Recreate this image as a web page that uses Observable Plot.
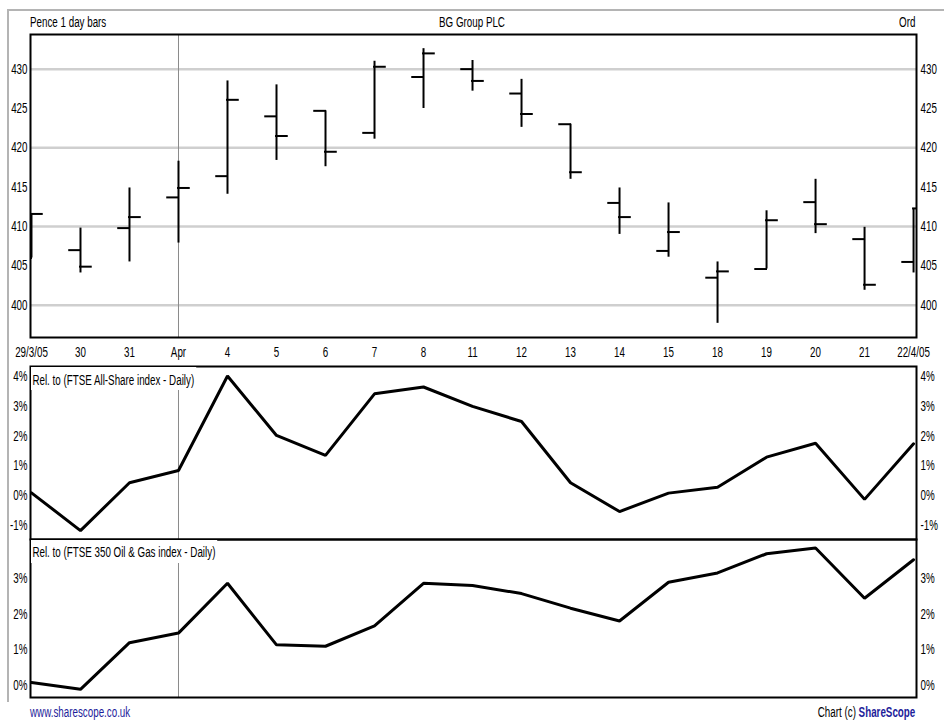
<!DOCTYPE html>
<html><head><meta charset="utf-8">
<script src="https://cdn.jsdelivr.net/npm/d3@7"></script>
<script src="https://cdn.jsdelivr.net/npm/@observablehq/plot@0.6"></script>
<style>
body{margin:0;background:#fff;}
#wrap{position:relative;width:944px;height:726px;overflow:hidden;font-family:"Liberation Sans",Arial,sans-serif;font-size:14px;color:#000;}
.t{position:absolute;white-space:nowrap;line-height:15px;z-index:5;}
.l{transform:scaleX(0.7);transform-origin:left center;}
.r{transform:scaleX(0.7);transform-origin:right center;}
.c{transform:scaleX(0.7);transform-origin:center center;}
#outer{position:absolute;left:7px;top:9px;width:940px;height:693px;border-top:2px solid #b4b4b4;border-left:2px solid #b4b4b4;box-sizing:border-box;}
</style></head><body><div id="wrap">
<div id="outer"></div>
<div class="t l" style="left:30px;top:15px;">Pence 1 day bars</div>
<div class="t c" style="left:0;width:944px;text-align:center;top:15px;">BG Group PLC</div>
<div class="t r" style="right:29px;top:15px;">Ord</div>
<div class="t l" style="left:31px;top:367px;background:#fff;padding:6px 3px 2px 2px;">Rel. to (FTSE All-Share index - Daily)</div>
<div class="t l" style="left:31px;top:540px;background:#fff;padding:5px 3px 3px 2px;">Rel. to (FTSE 350 Oil &amp; Gas index - Daily)</div>
<div class="t l" style="left:30px;top:705px;color:#1d1d9a;">www.sharescope.co.uk</div>
<div class="t r" style="right:29px;top:705px;">Chart (c) <b style="color:#1d1d9a;">ShareScope</b></div>
</div>
<script>
const dates = ["29/3/05","30","31","Apr","4","5","6","7","8","11","12","13","14","15","18","19","20","21","22/4/05"];
const opens  = [406.0, 407.0, 409.8, 413.7, 416.4, 424.0, 424.7, 421.9, 429.0, 430.0, 426.9, 423.0, 413.0, 406.9, 403.5, 404.6, 413.1, 408.4, 405.5];
const highs  = [411.6, 409.8, 414.9, 418.3, 428.5, 428.0, 424.7, 431.0, 432.6, 431.1, 428.7, 423.0, 414.9, 413.0, 405.5, 412.0, 416.0, 409.9, 412.3];
const lows   = [406.0, 404.1, 405.5, 407.9, 414.1, 418.4, 417.6, 421.1, 425.0, 427.2, 422.6, 416.0, 409.0, 406.1, 397.7, 404.6, 409.1, 401.9, 404.1];
const closes = [411.6, 404.9, 411.2, 414.9, 426.1, 421.5, 419.5, 430.3, 432.0, 428.5, 424.3, 416.9, 411.2, 409.3, 404.3, 410.8, 410.3, 402.6, 412.3];
const relAllShare = [0.09, -1.18, 0.43, 0.84, 4.02, 2.02, 1.35, 3.42, 3.65, 3.0, 2.49, 0.43, -0.54, 0.08, 0.28, 1.29, 1.76, -0.13, 1.74];
const relOilGas   = [0.08, -0.11, 1.20, 1.47, 2.87, 1.14, 1.10, 1.67, 2.87, 2.81, 2.58, 2.17, 1.81, 2.90, 3.16, 3.70, 3.86, 2.45, 3.53];
const priceTicks = [400, 405, 410, 415, 420, 425, 430];
const priceGrid = [400, 410, 420, 430];
const allTicks = [-1, 0, 1, 2, 3, 4];
const oilTicks = [0, 1, 2, 3];
const monthStarts = [3];

const ohlc = dates.map((d, i) => ({i, d, open: opens[i], high: highs[i], low: lows[i], close: closes[i]}));
const wrap = document.getElementById("wrap");
const FONT = '"Liberation Sans", Arial, sans-serif';
const SQ = 0.7;
const xDomain = [-0.02, 18.06];
const TW = 0.24;

function st(top) {
  return {background: "transparent", overflow: "visible", position: "absolute", left: "0px", top: top + "px", fontFamily: FONT, fontSize: "14px", color: "#000"};
}
function squeeze(svg) {
  svg.querySelectorAll("text").forEach(t => {
    const L = t.getComputedTextLength();
    if (L > 0) {
      t.setAttribute("textLength", (L * SQ).toFixed(2));
      t.setAttribute("lengthAdjust", "spacingAndGlyphs");
    }
  });
}

const main = Plot.plot({
  width: 944, height: 336,
  marginTop: 4, marginBottom: 29, marginLeft: 30, marginRight: 28,
  style: st(30),
  x: {domain: xDomain, axis: null},
  y: {domain: [395.9, 434.4], axis: null},
  marks: [
    Plot.ruleY(priceGrid, {stroke: "#cfcfcf", strokeWidth: 2.5}),
    Plot.ruleX(monthStarts, {stroke: "#8a8a8a", strokeWidth: 1}),
    Plot.ruleX(ohlc, {x: "i", y1: "low", y2: "high", stroke: "#000", strokeWidth: 2, clip: true}),
    Plot.ruleY(ohlc, {y: "open", x1: d => d.i - TW, x2: d => d.i + 0.02, stroke: "#000", strokeWidth: 2, clip: true}),
    Plot.ruleY(ohlc, {y: "close", x1: d => d.i - 0.02, x2: d => d.i + TW, stroke: "#000", strokeWidth: 2, clip: true}),
    Plot.frame({stroke: "#000", strokeWidth: 2}),
    Plot.axisY(priceTicks, {anchor: "left", tickSize: 0, tickPadding: 3, label: null}),
    Plot.axisY(priceTicks, {anchor: "right", tickSize: 0, tickPadding: 4, label: null}),
    Plot.axisX(d3.range(dates.length), {anchor: "bottom", tickSize: 0, tickPadding: 10, tickFormat: i => dates[i], label: null})
  ]
});
wrap.appendChild(main);
squeeze(main);

function relPanel(values, domain, ticks, top, height) {
  const data = values.map((v, i) => ({i, v}));
  return Plot.plot({
    width: 944, height,
    marginTop: 0, marginBottom: 0, marginLeft: 30, marginRight: 28,
    style: st(top),
    x: {domain: xDomain, axis: null},
    y: {domain, axis: null},
    marks: [
      Plot.ruleX(monthStarts, {stroke: "#8a8a8a", strokeWidth: 1}),
      Plot.line(data, {x: "i", y: "v", stroke: "#000", strokeWidth: 3, strokeLinejoin: "miter", clip: true}),
      Plot.frame({stroke: "#000", strokeWidth: 2}),
      Plot.axisY(ticks, {anchor: "left", tickSize: 0, tickPadding: 3, tickFormat: d => d + "%", label: null}),
      Plot.axisY(ticks, {anchor: "right", tickSize: 0, tickPadding: 4, tickFormat: d => d + "%", label: null})
    ]
  });
}
const p2 = relPanel(relAllShare, [-1.48, 4.34], allTicks, 366, 173);
wrap.appendChild(p2); squeeze(p2);
const p3 = relPanel(relOilGas, [-0.34, 4.10], oilTicks, 539, 158);
wrap.appendChild(p3); squeeze(p3);
</script>
</body></html>
